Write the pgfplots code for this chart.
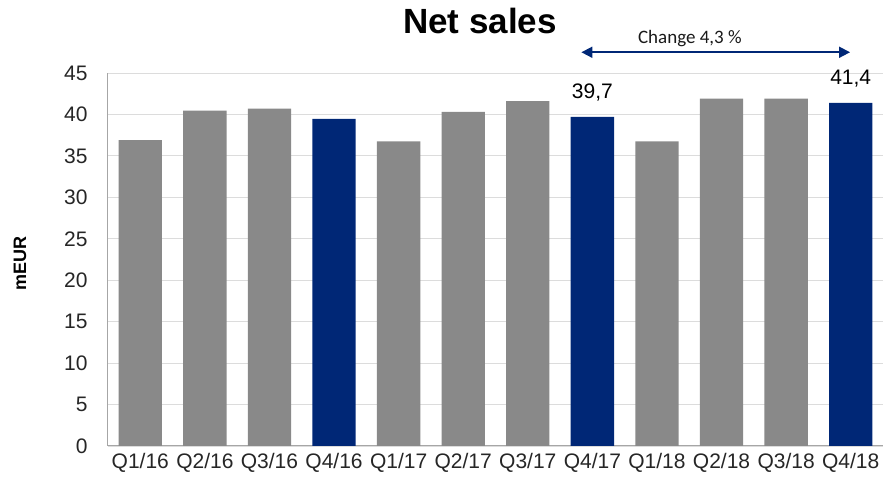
\documentclass[border=0pt]{standalone}
\usepackage{pgfplots}
\pgfplotsset{compat=1.18}
\usepackage{fontspec}
\setmainfont{Liberation Sans}
\newfontfamily\calib{Carlito}
\usetikzlibrary{arrows.meta}
\definecolor{barg}{HTML}{898989}
\definecolor{navy}{HTML}{002776}
\definecolor{gridc}{HTML}{DCDCDC}
\definecolor{axc}{HTML}{A6A6A6}
\begin{document}
\begin{tikzpicture}
\path[use as bounding box] (-108pt,-40pt) rectangle (775pt,446pt);
\begin{axis}[
  at={(0,0)}, anchor=south west,
  scale only axis, width=775pt, height=373pt,
  xmin=-0.5, xmax=11.5, ymin=0, ymax=45,
  ytick={0,5,...,45},
  xtick={0,...,11},
  xticklabels={Q1/16,Q2/16,Q3/16,Q4/16,Q1/17,Q2/17,Q3/17,Q4/17,Q1/18,Q2/18,Q3/18,Q4/18},
  axis x line*=bottom, axis y line*=left,
  axis line style={axc, line width=1pt, -},
  major tick length=0pt,
  ymajorgrids, grid style={gridc, line width=0.8pt},
  tick label style={font=\fontsize{21}{25}\selectfont, text=black!85},
  /pgf/number format/assume math mode=true,
  yticklabel style={xshift=-17pt},
  xticklabel style={yshift=-4pt},
  clip=false,
  ybar, bar width=0.67, bar shift=0pt,
]
\addplot[fill=barg, draw=none] coordinates {
 (0,36.9) (1,40.45) (2,40.7) (4,36.75) (5,40.3) (6,41.6) (8,36.75) (9,41.9) (10,41.9)};
\addplot[fill=navy, draw=none] coordinates {(3,39.45) (7,39.7) (11,41.4)};
\node[anchor=south, font=\fontsize{21}{25}\selectfont, inner sep=0pt] at (axis cs:7,41.6) {39,7};
\node[anchor=south, font=\fontsize{21}{25}\selectfont, inner sep=0pt] at (axis cs:11,43.3) {41,4};
\draw[navy, line width=1.8pt, {Triangle[length=11pt,width=11pt]}-{Triangle[length=11pt,width=11pt]}] (axis cs:6.83,47.5) -- (axis cs:10.99,47.5);
\node[font=\calib\fontsize{19}{22}\selectfont, text=black!90] at (axis cs:8.51,49.1) {Change 4,3 \%};
\end{axis}
\node[font=\fontsize{35}{40}\selectfont\bfseries] at (372pt,425pt) {Net sales};
\node[rotate=90, font=\fontsize{18}{21}\selectfont\bfseries] at (-88pt,182pt) {mEUR};
\end{tikzpicture}
\end{document}
